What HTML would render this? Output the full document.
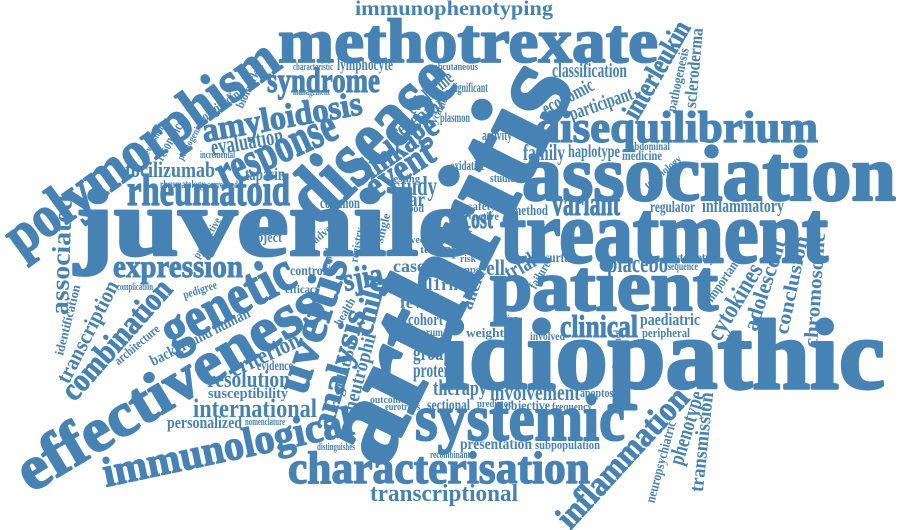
<!DOCTYPE html>
<html><head><meta charset="utf-8"><style>
html,body{margin:0;padding:0;background:#fff;}
svg{display:block;}
text{font-family:"Liberation Serif",serif;font-weight:bold;fill:#4682b4;stroke:#4682b4;stroke-linejoin:round;}
</style></head><body>
<svg id="cloud" width="900" height="530" viewBox="0 0 900 530" xmlns="http://www.w3.org/2000/svg"></svg>
<script>
// horizontal words: [text, x, baseline, fontSize, length]
const hWords = [
["juvenile",75,255,95,395],["treatment",500,262,88,328],["association",522,200,78,374],
["disequilibrium",535,142,44,283],["methotrexate",278,62,62,380],["immunophenotyping",355,15,21,198],
["idiopathic",440,388,100,445],["patient",490,310,72,228],["systemic",415,440,66,210],
["characterisation",288,483,46,302],["transcriptional",370,501,24,148],["international",193,417,26,124],
["resolution",207,387,24,83],["susceptibility",208,398,15,80],["personalized",167,428,17,75],
["clinical",560,337,32,78],["paediatric",640,325,17,60],["peripheral",642,337,13,48],
["involvement",490,400,23,90],["apoptosis",580,397,13,40],["objective",505,410,14,45],
["presentation",460,449,16,72],["subpopulation",535,449,13,65],["expression",113,277,32,130],
["syndrome",267,92,35,113],["tocilizumab",125,177,22,90],["rheumatoid",127,205,44,163],
["tapasin",245,180,18,40],["study",393,195,27,44],["year",393,206,20,32],
["classification",552,77,20,75],["family",523,160,23,42],["haplotype",568,157,18,52],
["medicine",622,160,14,40],["abdominal",630,150,12,40],["activity",482,140,15,30],
["oxidative",450,170,14,35],["studies",490,182,13,28],["variant",552,215,34,68],
["method",512,215,15,36],["regulator",650,212,16,45],["inflammatory",702,212,19,82],
["cost",463,228,29,30],["cytometry",670,262,14,45],["placebo",607,272,26,61],
["sequence",668,270,12,30],["lymphocyte",337,70,17,56],["characteristic",293,70,11,40],
["management",293,95,10,37],["subcutaneous",430,70,10,48],["significant",452,92,14,36],
["plasmon",440,122,14,30],["common",320,208,16,40],["subject",245,242,15,37],
["rheumatology",160,188,12,45],["correlated",207,188,11,31],["incremental",200,158,10,35],
["protein",413,377,20,42],["group",413,360,22,39],["therapy",433,395,22,54],
["sectional",427,410,16,43],["cohort",408,325,17,35],["fever",400,308,16,37],
["trap",432,255,17,28],["case",393,272,18,32],["cell",478,275,22,27],["il1rn",423,290,17,35],
["eurotraps",385,410,10,35],["outcome",370,403,11,35],["recombinant",430,458,10,40],
["distinguishes",317,450,11,38],["weight",466,337,13,38],["evidence",257,370,14,36],
["complication",117,290,10,36],["nomenclature",245,425,10,40],["surface",545,262,14,35],
["serum",418,336,12,25],["median",493,322,10,25],["blood",400,212,12,24],["testing",390,182,11,30],
["week",408,243,11,22],["test",420,253,10,18],["control",290,275,14,36],["efficacy",285,293,12,35],
["risk",460,262,11,16],["snps",460,273,11,20],["safety",468,210,12,28],["active",473,220,12,26],
["involved",530,340,12,35],["frequency",552,410,11,40],["predictor",477,407,10,35]
];
// rotated words: [text, cx, cy, fontSize, length, angleDeg]
const rWords = [
["arthritis",448,262,118,430,-63.5],["disease",372,140,80,200,-45],["polymorphism",142,148,58,325,-36],
["effectiveness",170,388,62,347,-31],["genetic",228,302,56,143,-27.5],["response",276,150,48,128,-24],
["amyloidosis",282,118,34,162,-10],["evaluation",247,142,24,73,-10],["linkage",400,147,34,85,-35],
["receptor",418,118,22,62,-34],["colchicine",430,93,20,55,-40],["event",400,170,38,75,-33],
["uveitis",313,325,48,140,-72],["analysis",339,370,32,125,-74],["sjia",363,278,32,40,-10],
["child",370,305,30,60,-75],["neutrophil",360,372,20,80,-75],["regulation",343,375,15,70,-75],
["immunological",228,448,42,255,-12],["combination",117,340,32,150,-48.5],
["transcription",88,332,22,112,-63],["identification",68,320,13,72,-76],["associated",62,255,26,120,-88],
["background human",200,337,16,110,-27],["architecture",137,345,13,55,-40],["criterion",265,355,24,75,-25],
["pedigree",200,290,12,35,-18],["inflammation",623,458,34,178,-47.5],["neuropsychiatric",661,462,14,84,-75],
["phenotype",687,428,22,76,-73],["transmission",702,442,20,100,-84],["cytokines",735,302,26,85,-59],
["adolescent",765,285,22,95,-72],["conclusion",792,285,20,100,-78],["chromosome",815,290,20,115,-86],
["important",723,280,14,50,-55],["interleukin",657,70,28,108,-60],["pathogenesis",678,80,14,65,-78],
["scleroderma",694,68,18,80,-85],["economic",568,97,20,56,-28],["participant",601,104,20,66,-19],
["longitudinal",223,104,14,55,-35],["biomarker",250,85,12,50,-65],["resonance",170,140,15,45,-60],
["reversibility",155,138,10,45,-60],["pathogenic",190,142,10,40,-60],["trial",520,267,24,32,-30],
["allele",473,290,18,40,-70],["health",345,312,12,30,-60],["result",460,240,12,30,-50],
["technology",663,172,11,45,-40],["adverse",327,230,12,35,-40],["registry",357,245,12,35,-80],
["single",383,228,12,30,-75],["female",328,258,11,30,-80],["prospective",207,238,11,45,-60],
["sycamore",440,108,11,40,-65],["failure",540,275,13,30,-60],["determined",617,350,11,40,-88]
];
const svg = document.getElementById('cloud');
const NS = 'http://www.w3.org/2000/svg';
function sw(fs){ return fs >= 28 ? (fs*0.03).toFixed(2) : '0'; }
hWords.forEach(function(w){
  const t = document.createElementNS(NS,'text');
  
  
  t.setAttribute('x', w[1]);
  t.setAttribute('y', w[2]);
  t.setAttribute('font-size', w[3]);
  t.setAttribute('stroke-width', sw(w[3]));
  t.setAttribute('textLength', w[4]);
  t.setAttribute('lengthAdjust', 'spacingAndGlyphs');
  t.textContent = w[0];
  svg.appendChild(t);
});
rWords.forEach(function(w){
  const t = document.createElementNS(NS,'text');
  
  
  t.setAttribute('x', 0);
  t.setAttribute('y', (w[3]*0.3).toFixed(1));
  t.setAttribute('text-anchor', 'middle');
  t.setAttribute('font-size', w[3]);
  t.setAttribute('stroke-width', sw(w[3]));
  t.setAttribute('textLength', w[4]);
  t.setAttribute('lengthAdjust', 'spacingAndGlyphs');
  t.setAttribute('transform', 'translate(' + w[1] + ',' + w[2] + ') rotate(' + w[5] + ')');
  t.textContent = w[0];
  svg.appendChild(t);
});
</script>
</body></html>
